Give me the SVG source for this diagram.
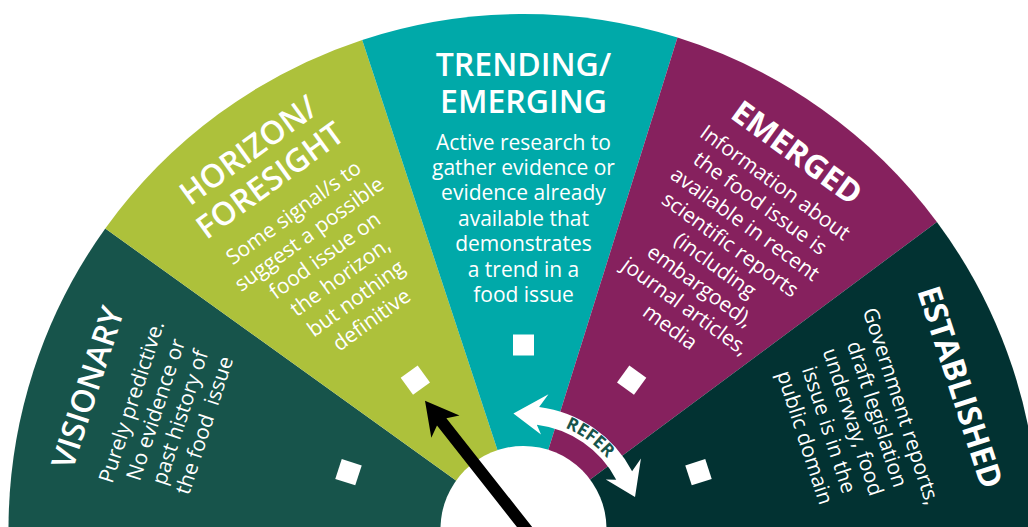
<svg xmlns="http://www.w3.org/2000/svg" width="1028" height="527" viewBox="0 0 1028 527">
  <style>
    .title { font-family: "Open Sans", "Liberation Sans", sans-serif; font-weight: 600; font-size: 32px; fill: #ffffff; text-anchor: middle; }
    .title.heavy { font-weight: 700; }
    .body { font-family: "Open Sans", "Liberation Sans", sans-serif; font-weight: 400; font-size: 21px; fill: #ffffff; text-anchor: middle; }
    .marker { fill: #ffffff; }
    .refer { font-family: "Open Sans", "Liberation Sans", sans-serif; font-weight: 700; font-size: 17.5px; fill: #17544b; }
  </style>
  <defs>
    <!-- baseline arc for the REFER label, radius 109.5 about the dial centre -->
    <path id="referArc" d="M 506.37 420.85 A 109.5 109.5 0 0 1 631.65 511.87" fill="none"/>
  </defs>

  <rect width="1028" height="527" fill="#ffffff"/>

  <!-- dial centre (523.5, 529), outer radius 515 -->
  <g id="visionary">
    <path d="M 523.5 529 L 8.5 529 A 515 515 0 0 1 105.3 228.5 Z" fill="#17544b"/>
    <g transform="rotate(-72 523.5 529)">
      <rect class="marker" x="513" y="334.5" width="21" height="21"/>
      <text class="title" x="523.5" y="82">VISIONARY</text>
      <text class="body" x="523.5" y="124">Purely predictive.</text>
      <text class="body" x="523.5" y="149.5">No evidence or</text>
      <text class="body" x="523.5" y="175">past history of</text>
      <text class="body" x="523.5" y="200.5">the food&#160; issue</text>
    </g>
  </g>

  <g id="horizon">
    <path d="M 523.5 529 L 105.3 228.5 A 515 515 0 0 1 362.2 39.9 Z" fill="#adc13b"/>
    <g transform="rotate(-36 523.5 529)">
      <rect class="marker" x="513" y="334.5" width="21" height="21"/>
      <text class="title" x="523.5" y="72">HORIZON/</text>
      <text class="title" x="523.5" y="109">FORESIGHT</text>
      <text class="body" x="523.5" y="145">Some signal/s to</text>
      <text class="body" x="523.5" y="171.5">suggest a possible</text>
      <text class="body" x="523.5" y="198">food issue on</text>
      <text class="body" x="523.5" y="224.5">the horizon,</text>
      <text class="body" x="523.5" y="251">but nothing</text>
      <text class="body" x="523.5" y="277.5">definitive</text>
    </g>
  </g>

  <g id="trending">
    <path d="M 523.5 529 L 362.2 39.9 A 515 515 0 0 1 677.5 37.6 Z" fill="#00a9a9"/>
    <rect class="marker" x="513" y="334.5" width="21" height="21"/>
    <text class="title" x="523.5" y="76">TRENDING/</text>
    <text class="title" x="523.5" y="112.7">EMERGING</text>
    <text class="body" x="523.5" y="149.5">Active research to</text>
    <text class="body" x="523.5" y="175">gather evidence or</text>
    <text class="body" x="523.5" y="200.4">evidence already</text>
    <text class="body" x="523.5" y="225.8">available that</text>
    <text class="body" x="523.5" y="251.2">demonstrates</text>
    <text class="body" x="523.5" y="276.6">a trend in a</text>
    <text class="body" x="523.5" y="302">food issue</text>
  </g>

  <g id="emerged">
    <path d="M 523.5 529 L 677.5 37.6 A 515 515 0 0 1 936.9 222 Z" fill="#86215e"/>
    <g transform="rotate(36 523.5 529)">
      <rect class="marker" x="513" y="334.5" width="21" height="21"/>
      <text class="title heavy" x="523.5" y="75">EMERGED</text>
      <text class="body" x="523.5" y="108">Information about</text>
      <text class="body" x="523.5" y="133.5">the food issue is</text>
      <text class="body" x="523.5" y="159">available in recent</text>
      <text class="body" x="523.5" y="184.5">scientific reports</text>
      <text class="body" x="523.5" y="210">(including</text>
      <text class="body" x="523.5" y="235.5">embargoed),</text>
      <text class="body" x="523.5" y="261">journal articles,</text>
      <text class="body" x="523.5" y="286.5">media</text>
    </g>
  </g>

  <g id="established">
    <path d="M 523.5 529 L 936.9 222 A 515 515 0 0 1 1038.5 529 Z" fill="#023232"/>
    <g transform="rotate(72 523.5 529)">
      <rect class="marker" x="513" y="334.5" width="21" height="21"/>
      <text class="title heavy" x="523.5" y="81">ESTABLISHED</text>
      <text class="body" x="523.5" y="139">Government reports,</text>
      <text class="body" x="523.5" y="164.3">draft legislation</text>
      <text class="body" x="523.5" y="189.6">underway, food</text>
      <text class="body" x="523.5" y="214.9">issue is in the</text>
      <text class="body" x="523.5" y="240.2">public domain</text>
    </g>
  </g>

  <g id="hub">
    <circle cx="523.5" cy="529" r="83" fill="#ffffff"/>
  </g>

  <g id="connectors">
    <!-- curved two-way REFER arrow between trending and established -->
    <g id="refer-arrow">
      <path d="M 513.39 413.44 L 548.47 394.29 L 539.13 407 A 123 123 0 0 1 632.1 471.26 L 640.93 458.44 L 635.01 497.03 L 605.79 479.56 L 616.21 479.71 A 105 105 0 0 0 536.84 424.85 L 541 434.61 Z" fill="#ffffff"/>
      <text class="refer"><textPath href="#referArc" startOffset="50%" text-anchor="middle">REFER</textPath></text>
    </g>
    <!-- dial needle pointing into horizon/foresight -->
    <polygon id="needle" points="425,400.7 459.5,415.5 446.4,418.2 538,534.4 528.6,541.8 437,425.6 431.3,437.7" fill="#000000"/>
  </g>
</svg>
